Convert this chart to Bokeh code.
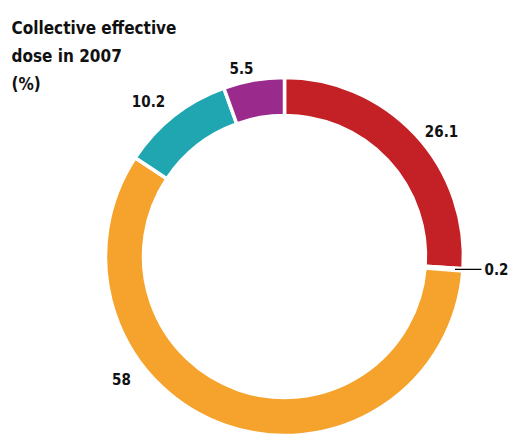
import math
from bokeh.plotting import figure
from bokeh.models import Range1d
from bokeh.core.properties import value
from bokeh.embed import file_html
from bokeh.resources import INLINE

# data (clockwise from top)
categories = ["A", "B", "C", "D", "E"]
values = [26.1, 0.2, 58.0, 10.2, 5.5]
labels = ["26.1", "0.2", "58", "10.2", "5.5"]
colors = ["#C42127", "#7DC142", "#F5A32C", "#20A6B1", "#9B2A8D"]
title_lines = ["Collective effective", "dose in 2007", "(%)"]

W, H = 509, 434
p = figure(width=W, height=H, output_backend="svg", toolbar_location=None,
           x_range=Range1d(0, W), y_range=Range1d(0, H), min_border=0)
p.axis.visible = False
p.grid.visible = False
p.outline_line_color = None
p.background_fill_color = "white"

cx, cy = 284, H - 256
r_out, r_in = 179, 141

total = sum(values)
starts, ends = [], []
cum = 0.0
for v in values:
    a0 = math.pi / 2 - 2 * math.pi * cum / total
    cum += v
    a1 = math.pi / 2 - 2 * math.pi * cum / total
    starts.append(a0)
    ends.append(a1)

p.annular_wedge(x=[cx] * len(values), y=[cy] * len(values), inner_radius=r_in, outer_radius=r_out,
                start_angle=starts, end_angle=ends, direction="clock",
                fill_color=colors, line_color="white", line_width=3.5)

FONT = "DejaVu Sans Condensed, Liberation Sans, sans-serif"
# label positions (layout)
lab_pos = [(441, 130), (484, 268), (121, 378), (148, 100), (241, 67)]
lab_align = ["center", "left", "center", "center", "center"]
for (lx, ly), t, al in zip(lab_pos, labels, lab_align):
    p.text(x=[lx], y=[H - ly], text=[t], text_align=al, text_baseline="middle",
           text_font=value(FONT), text_font_style="bold", text_font_size="15px", text_color="#111111")

# leader line for small slice
mid_b = (starts[1] + ends[1]) / 2
p.line(x=[cx + (r_out - 8) * math.cos(mid_b), 481], y=[cy + (r_out - 8) * math.sin(mid_b)] * 2,
       line_color="black", line_width=1.3)

for i, t in enumerate(title_lines):
    p.text(x=[11], y=[H - 17 - i * 28], text=[t], text_align="left", text_baseline="top",
           text_font=value(FONT), text_font_style="bold", text_font_size="17px", text_color="#111111")

open("out.html", "w").write(file_html(p, INLINE))
